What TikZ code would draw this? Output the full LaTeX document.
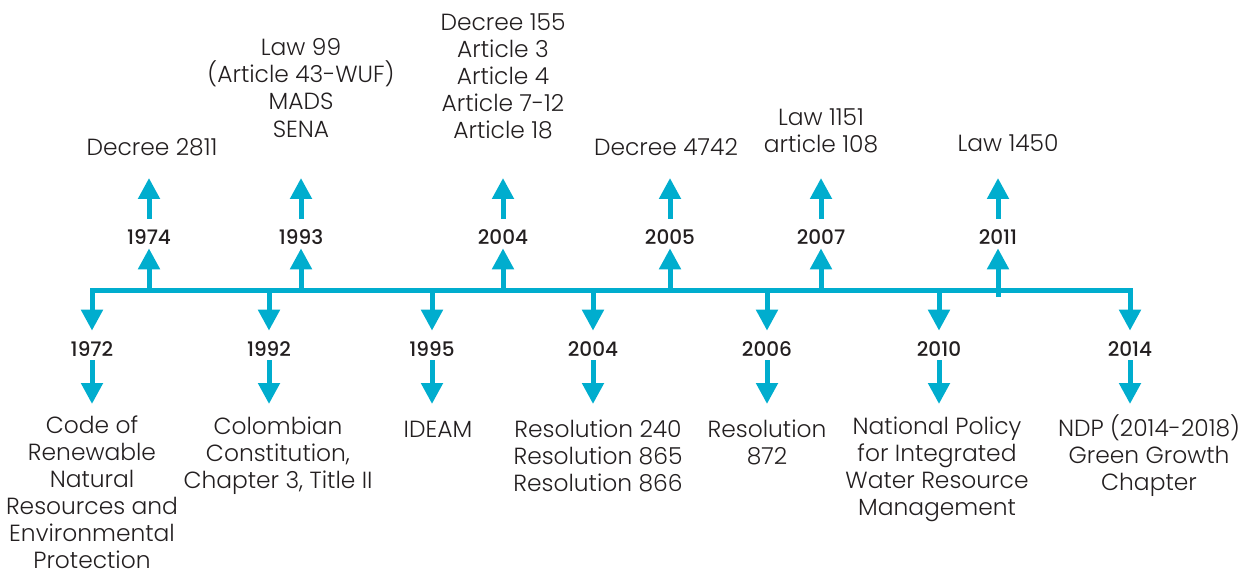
\documentclass[tikz,border=0pt]{standalone}
\usepackage{fontspec}
\setmainfont{Poppins}[UprightFont=* Light, BoldFont=* Medium]
\usetikzlibrary{arrows.meta,positioning}
\definecolor{tlblue}{RGB}{0,173,206}
\definecolor{tltext}{RGB}{35,31,32}
\tikzset{
  tline/.style={line width=0.1cm, draw=tlblue},
  tarrow/.style={tline, -{Triangle[width=0.42cm,length=0.42cm]}},
  year/.style={font=\fontsize{11.4}{12}\selectfont\bfseries, text=tltext, inner sep=0pt,
    text height=0.52cm, text depth=0.06cm, anchor=base},
  note/.style={font=\fontsize{13.3}{15.4}\selectfont, text=tltext, align=center, inner sep=0pt}
}

\begin{document}
\begin{tikzpicture}[x=0.02cm, y=-0.02cm]
    \useasboundingbox (0,0) rectangle (1247,573);

    % Events above the line
    \foreach \n/\x/\yr/\yb in {u1/149/1974/291, u2/301/1993/291, u3/503/2004/291,
                               u4/670/2005/291, u5/821/2007/291, u6/998/2011/297} {
        \coordinate (\n-b) at (\x,\yb);
        \node[year] (\n-y) at (\x,245) {\yr};
        \coordinate (\n-h) at (\x,178);
        \draw[tarrow] (\n-b) -- (\n-y);
        \draw[tarrow] (\n-y) -- (\n-h);
    }

    % Events below the line
    \foreach \n/\x/\yr in {d1/92/1972, d2/269/1992, d3/432/1995, d4/593/2004,
                           d5/767/2006, d6/939/2010, d7/1130/2014} {
        \coordinate (\n-b) at (\x,291);
        \node[year] (\n-y) at (\x,357) {\yr};
        \coordinate (\n-h) at (\x,404);
        \draw[tarrow] (\n-b) -- (\n-y);
        \draw[tarrow] (\n-y) -- (\n-h);
    }

    % Time line
    \draw[tline, line cap=rect] (d1-b) -- (d7-b);

    % Texts above
    \node[note] (u1-t) at (152,147) {Decree 2811};
    \node[note] (u2-t) at (301,88) {Law 99\\(Article 43-WUF)\\MADS\\SENA};
    \node[note] (u3-t) at (503,76) {Decree 155\\Article 3\\Article 4\\Article 7-12\\Article 18};
    \node[note] (u4-t) at (666,147) {Decree 4742};
    \node[note] (u5-t) at (821,131) {Law 1151\\article 108};
    \node[note] (u6-t) at (1008,143) {Law 1450};

    % Texts below
    \node[note] (d1-t) at (92,492) {Code of\\Renewable\\Natural\\Resources and\\Environmental\\Protection};
    \node[note] (d2-t) at (278,456) {Colombian\\Constitution,\\Chapter 3, Title II};
    \node[note] (d3-t) at (438,429) {IDEAM};
    \node[note] (d4-t) at (598,456) {Resolution 240\\Resolution 865\\Resolution 866};
    \node[note] (d5-t) at (767,442) {Resolution\\872};
    \node[note] (d6-t) at (937,469) {National Policy\\for Integrated\\Water Resource\\Management};
    \node[note] (d7-t) at (1149,456) {NDP (2014-2018)\\Green Growth\\Chapter};
\end{tikzpicture}
\end{document}
